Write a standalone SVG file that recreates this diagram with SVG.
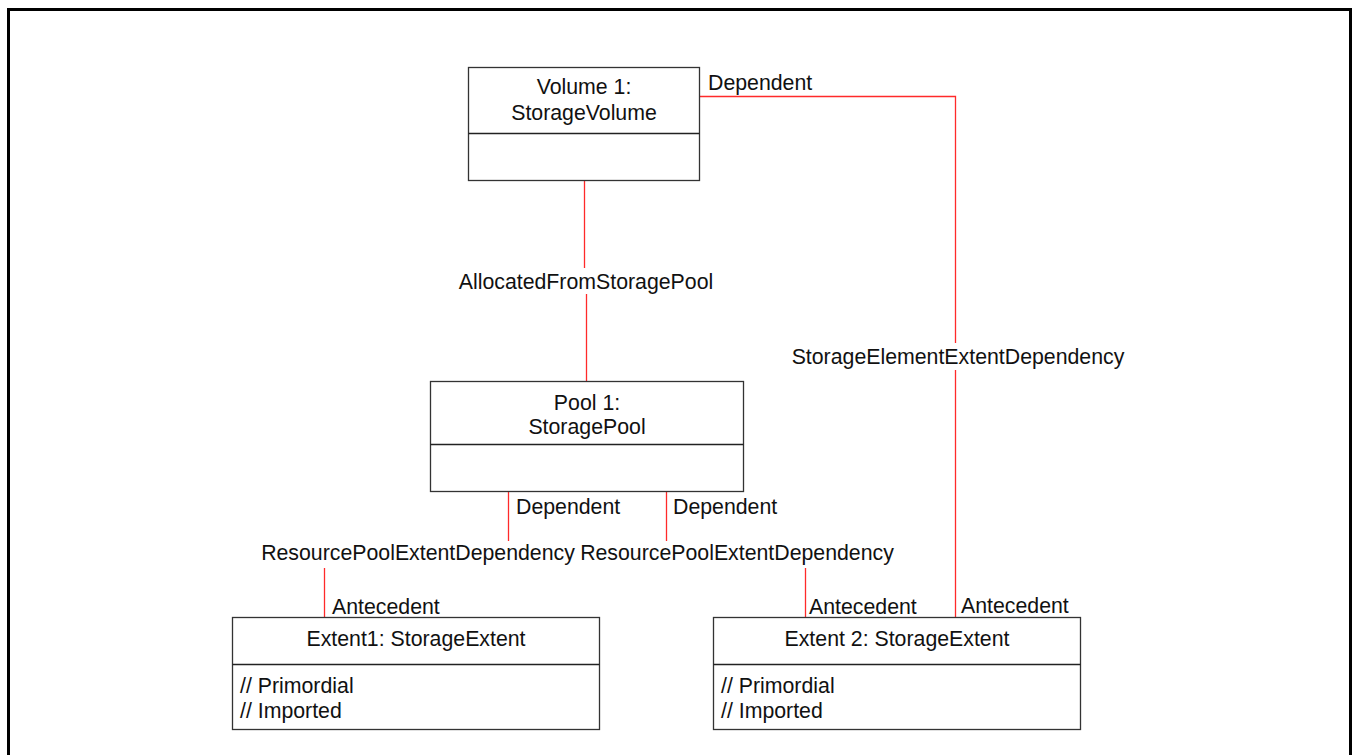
<svg xmlns="http://www.w3.org/2000/svg" width="1353" height="755" viewBox="0 0 1353 755">
<style>
text{font-family:"Liberation Sans",Arial,sans-serif;font-size:21.3px;fill:#111}
.c{text-anchor:middle}
.box{fill:#fff;stroke:#333;stroke-width:1.3}
.div{stroke:#222;stroke-width:1.3}
.con{fill:none;stroke:#ff2a2a;stroke-width:1.3}
</style>
<rect x="8.5" y="9.5" width="1342" height="800" fill="#fff" stroke="#000" stroke-width="3"/>
<g id="connectors">
<path class="con" d="M584.5 180V268"/>
<path class="con" d="M586.5 294V382"/>
<path class="con" d="M699 96.5H955.5V343"/>
<path class="con" d="M955.5 370V617"/>
<path class="con" d="M508.5 491V541"/>
<path class="con" d="M666.5 491V541"/>
<path class="con" d="M324.5 568V617"/>
<path class="con" d="M805.5 568V617"/>
<text x="586" y="289" class="c">AllocatedFromStoragePool</text>
<text x="958" y="364" class="c">StorageElementExtentDependency</text>
<text x="708" y="90">Dependent</text>
<text x="516" y="514">Dependent</text>
<text x="673" y="514">Dependent</text>
<text x="418" y="560" class="c">ResourcePoolExtentDependency</text>
<text x="737" y="560" class="c">ResourcePoolExtentDependency</text>
<text x="332" y="614">Antecedent</text>
<text x="809" y="614">Antecedent</text>
<text x="961" y="613">Antecedent</text>
</g>
<g id="volume1">
<rect class="box" x="468.5" y="67.5" width="231" height="113"/>
<line class="div" x1="468.5" y1="133.5" x2="699.5" y2="133.5"/>
<text x="584" y="94" class="c">Volume 1:</text>
<text x="584" y="120" class="c">StorageVolume</text>
</g>
<g id="pool1">
<rect class="box" x="430.5" y="381.5" width="313" height="110"/>
<line class="div" x1="430.5" y1="444.5" x2="743.5" y2="444.5"/>
<text x="587" y="410" class="c">Pool 1:</text>
<text x="587" y="434" class="c">StoragePool</text>
</g>
<g id="extent1">
<rect class="box" x="232.5" y="617.5" width="367" height="112"/>
<line class="div" x1="232.5" y1="664.5" x2="599.5" y2="664.5"/>
<text x="416" y="646" class="c">Extent1: StorageExtent</text>
<text x="240" y="693">// Primordial</text>
<text x="240" y="718">// Imported</text>
</g>
<g id="extent2">
<rect class="box" x="713.5" y="617.5" width="367" height="112"/>
<line class="div" x1="713.5" y1="664.5" x2="1080.5" y2="664.5"/>
<text x="897" y="646" class="c">Extent 2: StorageExtent</text>
<text x="721" y="693">// Primordial</text>
<text x="721" y="718">// Imported</text>
</g>
</svg>
